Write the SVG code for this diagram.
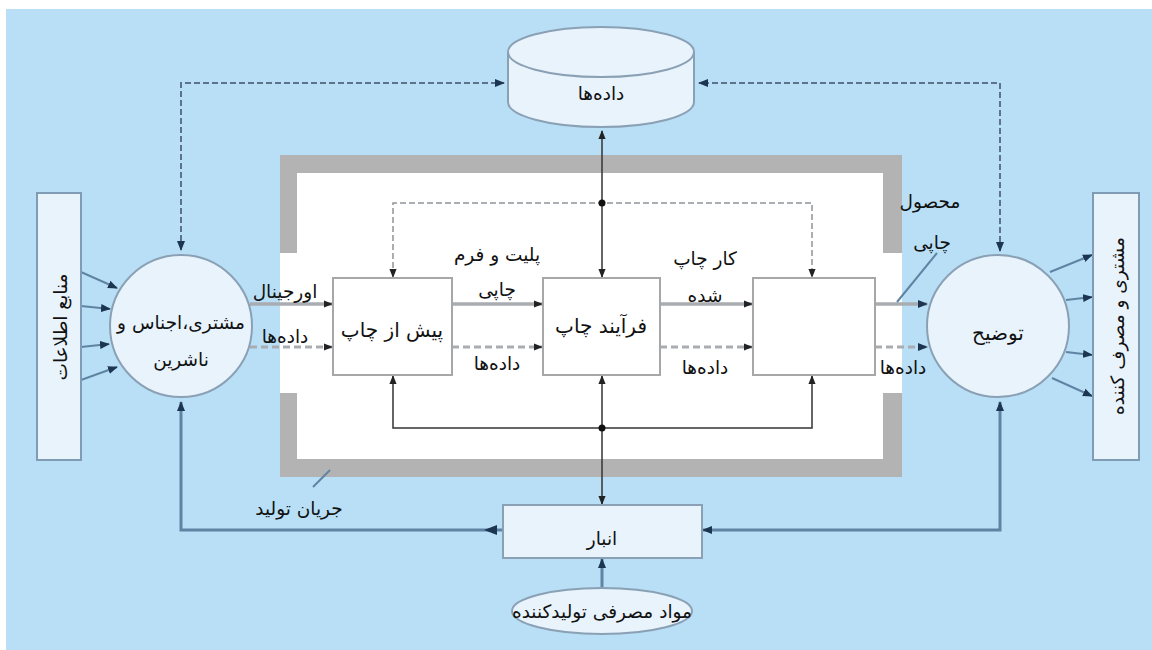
<svg xmlns="http://www.w3.org/2000/svg" width="1152" height="650" viewBox="0 0 1152 650">
<style>
text{font-family:"DejaVu Sans","Noto Sans",sans-serif;font-size:18.5px;fill:#111;text-anchor:middle}
.big{font-size:20px}
.dash{fill:none;stroke:#5d7389;stroke-width:2;stroke-dasharray:6 3}
.blue{fill:none;stroke:#5f84a3;stroke-width:3}
.dark{fill:none;stroke:#333;stroke-width:1.5}
.gline{fill:none;stroke:#a9adb1;stroke-width:3.5}
.gdash{fill:none;stroke:#a9adb1;stroke-width:3;stroke-dasharray:7 4}
.gray{fill:#b3b3b3}
.box{fill:#fff;stroke:#a7a7a7;stroke-width:2}
.node{fill:#e8f3fc;stroke:#8aa0b5;stroke-width:2}
</style>
<defs>
<marker id="ah" viewBox="0 0 10 10" refX="9" refY="5" markerWidth="10" markerHeight="10" markerUnits="userSpaceOnUse" orient="auto-start-reverse">
<path d="M0,1 L10,5 L0,9 z" fill="#1c3550"/>
</marker>
<marker id="ak" viewBox="0 0 10 10" refX="9" refY="5" markerWidth="9" markerHeight="9" markerUnits="userSpaceOnUse" orient="auto-start-reverse">
<path d="M0,1 L10,5 L0,9 z" fill="#222"/>
</marker>
</defs>
<rect x="0" y="0" width="1152" height="650" fill="#fff"/>
<rect x="6" y="9" width="1146" height="641" fill="#b8dff5"/>

<g id="frame">
<rect x="280" y="155" width="622" height="322" fill="#fff"/>
<rect class="gray" x="280" y="155" width="622" height="18"/>
<rect class="gray" x="280" y="459" width="622" height="18"/>
<rect class="gray" x="280" y="155" width="17" height="98"/>
<rect class="gray" x="280" y="393" width="17" height="84"/>
<rect class="gray" x="883" y="155" width="19" height="98"/>
<rect class="gray" x="883" y="393" width="19" height="84"/>
</g>

<g id="connectors">
<path class="dash" d="M181,250 V83 H504" marker-start="url(#ah)" marker-end="url(#ah)"/>
<path class="dash" d="M1000,251 V83 H699" marker-start="url(#ah)" marker-end="url(#ah)"/>
<path class="dark" d="M602,131 V277" marker-start="url(#ak)" marker-end="url(#ak)"/>
<path class="gdash" style="stroke:#8f9499;stroke-width:1.5;stroke-dasharray:6 3" d="M393,277 V203 H812 V277" marker-start="url(#ak)" marker-end="url(#ak)"/>
<path class="dark" d="M393,376 V428 H812 V376" marker-start="url(#ak)" marker-end="url(#ak)"/>
<path class="dark" d="M602,376 V504" marker-start="url(#ak)" marker-end="url(#ak)"/>
<circle cx="602" cy="203" r="3.5" fill="#111"/>
<circle cx="602" cy="428" r="3.5" fill="#111"/>
<path class="blue" d="M181,402 V530 H503" marker-start="url(#ah)"/>
<path d="M497,525 L484,530 L497,535 z" fill="#1c3550"/>
<path class="blue" d="M1000,402 V530 H703" marker-start="url(#ah)" marker-end="url(#ah)"/>
<path class="blue" d="M602,588 V559" marker-end="url(#ah)"/>
<path class="gline" d="M250,304 H332" marker-end="url(#ak)"/>
<path class="gdash" d="M250,347 H332" marker-end="url(#ak)"/>
<path class="gline" d="M452,304 H542" marker-end="url(#ak)"/>
<path class="gdash" d="M452,347 H542" marker-end="url(#ak)"/>
<path class="gline" d="M660,304 H752" marker-end="url(#ak)"/>
<path class="gdash" d="M660,347 H752" marker-end="url(#ak)"/>
<path class="gline" d="M875,304 H927" marker-end="url(#ah)"/>
<path class="gdash" d="M875,347 H927" marker-end="url(#ah)"/>
<path class="blue" style="stroke-width:2" d="M81,272 L117,288" marker-end="url(#ah)"/>
<path class="blue" style="stroke-width:2" d="M81,306 L110,309" marker-end="url(#ah)"/>
<path class="blue" style="stroke-width:2" d="M81,347 L109,344" marker-end="url(#ah)"/>
<path class="blue" style="stroke-width:2" d="M81,380 L117,367" marker-end="url(#ah)"/>
<path class="blue" style="stroke-width:2" d="M1050,272 L1092,255" marker-end="url(#ah)"/>
<path class="blue" style="stroke-width:2" d="M1066,300 L1092,297" marker-end="url(#ah)"/>
<path class="blue" style="stroke-width:2" d="M1066,352 L1092,355" marker-end="url(#ah)"/>
<path class="blue" style="stroke-width:2" d="M1052,378 L1092,396" marker-end="url(#ah)"/>
<path class="blue" style="stroke-width:2" d="M897,302 L937,253"/>
<path class="blue" style="stroke-width:2" d="M313,487 L330,470"/>
</g>

<g id="sources">
<rect class="node" x="37" y="193" width="44" height="267" style="stroke:#7f9cb4"/>
<text transform="translate(60,327) rotate(-90)" dominant-baseline="central">منابع اطلاعات</text>
</g>
<g id="consumers">
<rect class="node" x="1093" y="193" width="46" height="267" style="stroke:#7f9cb4"/>
<text transform="translate(1117,326) rotate(-90)" dominant-baseline="central">مشتری و مصرف کننده</text>
</g>
<g id="data-store">
<path class="node" d="M508,52 V102 A93,25 0 0 0 694,102 V52"/>
<ellipse class="node" cx="601" cy="52" rx="93" ry="25"/>
<text x="601" y="100">داده‌ها</text>
</g>
<g id="customer">
<circle class="node" cx="181" cy="326" r="71"/>
<text x="181" y="329">مشتری،اجناس و</text>
<text x="181" y="366">ناشرین</text>
</g>
<g id="explain">
<circle class="node" cx="998" cy="326" r="71"/>
<text class="big" x="998" y="340">توضیح</text>
</g>
<g id="prepress">
<rect class="box" x="333" y="278" width="119" height="97"/>
<text class="big" x="392" y="337">پیش از چاپ</text>
</g>
<g id="press">
<rect class="box" x="543" y="278" width="117" height="97"/>
<text class="big" x="601" y="333">فرآیند چاپ</text>
</g>
<g id="postpress">
<rect class="box" x="753" y="278" width="122" height="97"/>
</g>
<g id="warehouse">
<rect class="node" x="503" y="505" width="199" height="53" style="stroke:#8aa0b5"/>
<text x="602" y="545">انبار</text>
</g>
<g id="materials">
<ellipse class="node" cx="602" cy="611" rx="90" ry="23"/>
<text x="602" y="618">مواد مصرفی تولیدکننده</text>
</g>
<g id="labels">
<text x="497" y="261">پلیت و فرم</text>
<text x="497" y="296">چاپی</text>
<text x="497" y="370">داده‌ها</text>
<text x="705" y="265">کار چاپ</text>
<text x="705" y="302">شده</text>
<text x="705" y="374">داده‌ها</text>
<text x="285" y="298">اورجینال</text>
<text x="285" y="343">داده‌ها</text>
<text x="930" y="208">محصول</text>
<text x="932" y="249">چاپی</text>
<text x="903" y="374">داده‌ها</text>
<text x="299" y="515">جریان تولید</text>
</g>
</svg>
